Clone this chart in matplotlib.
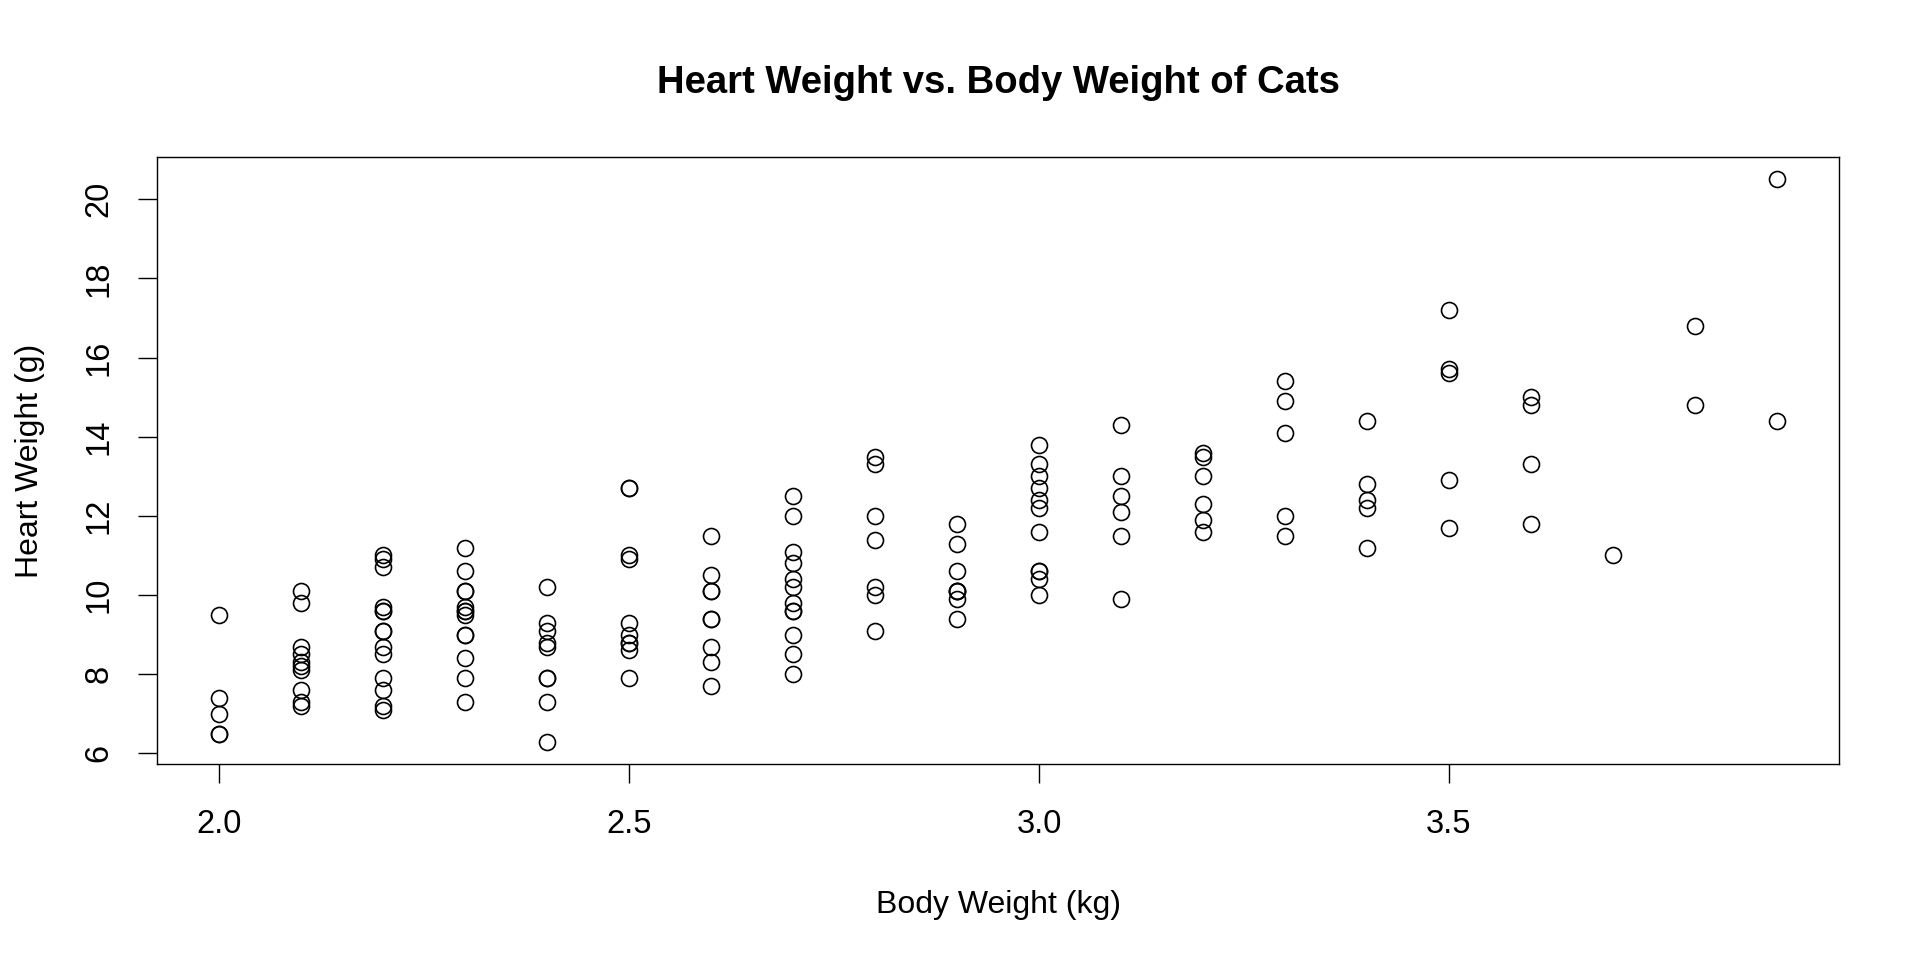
import numpy as np
import matplotlib.pyplot as plt

# cats data: body weight (kg) and heart weight (g)
bwt = [2.0, 2.0, 2.0, 2.1, 2.1, 2.1, 2.1, 2.1, 2.1, 2.1, 2.1, 2.1, 2.2, 2.2,
       2.2, 2.2, 2.2, 2.2, 2.3, 2.3, 2.3, 2.3, 2.3, 2.3, 2.3, 2.3, 2.3, 2.3,
       2.3, 2.3, 2.4, 2.4, 2.4, 2.4, 2.5, 2.5, 2.6, 2.6, 2.6, 2.7, 2.7, 2.7,
       2.9, 2.9, 2.9, 3.0, 3.0,
       2.0, 2.0, 2.1, 2.2, 2.2, 2.2, 2.2, 2.2, 2.2, 2.2, 2.2, 2.3, 2.4, 2.4,
       2.4, 2.4, 2.4, 2.5, 2.5, 2.5, 2.5, 2.5, 2.5, 2.5, 2.5, 2.6, 2.6, 2.6,
       2.6, 2.6, 2.6, 2.7, 2.7, 2.7, 2.7, 2.7, 2.7, 2.7, 2.7, 2.7, 2.8, 2.8,
       2.8, 2.8, 2.8, 2.8, 2.8, 2.9, 2.9, 2.9, 2.9, 2.9, 3.0, 3.0, 3.0, 3.0,
       3.0, 3.0, 3.0, 3.0, 3.0, 3.1, 3.1, 3.1, 3.1, 3.1, 3.1, 3.2, 3.2, 3.2,
       3.2, 3.2, 3.2, 3.3, 3.3, 3.3, 3.3, 3.3, 3.4, 3.4, 3.4, 3.4, 3.4, 3.5,
       3.5, 3.5, 3.5, 3.5, 3.6, 3.6, 3.6, 3.6, 3.7, 3.8, 3.8, 3.9, 3.9]
hwt = [7.0, 7.4, 9.5, 7.2, 7.3, 7.6, 8.1, 8.2, 8.3, 8.5, 8.7, 9.8, 7.1, 8.7,
       9.1, 9.7, 10.9, 11.0, 7.3, 7.9, 8.4, 9.0, 9.0, 9.5, 9.6, 9.7, 10.1,
       10.1, 10.6, 11.2, 6.3, 8.7, 8.8, 10.2, 9.0, 10.9, 8.7, 10.1, 10.1,
       8.5, 10.2, 10.8, 9.9, 10.1, 10.1, 10.6, 13.0,
       6.5, 6.5, 10.1, 7.2, 7.6, 7.9, 8.5, 9.1, 9.6, 9.6, 10.7, 9.6, 7.3,
       7.9, 7.9, 9.1, 9.3, 7.9, 8.6, 8.8, 8.8, 9.3, 11.0, 12.7, 12.7, 7.7,
       8.3, 9.4, 9.4, 10.5, 11.5, 8.0, 9.0, 9.6, 9.6, 9.8, 10.4, 11.1, 12.0,
       12.5, 9.1, 10.0, 10.2, 11.4, 12.0, 13.3, 13.5, 9.4, 10.1, 10.6, 11.3,
       11.8, 10.0, 10.4, 10.6, 11.6, 12.2, 12.4, 12.7, 13.3, 13.8, 9.9, 11.5,
       12.1, 12.5, 13.0, 14.3, 11.6, 11.9, 12.3, 13.0, 13.5, 13.6, 11.5,
       12.0, 14.1, 14.9, 15.4, 11.2, 12.2, 12.4, 12.8, 14.4, 11.7, 12.9,
       15.6, 15.7, 17.2, 11.8, 13.3, 14.8, 15.0, 11.0, 14.8, 16.8, 14.4, 20.5]
xticks = [2.0, 2.5, 3.0, 3.5]
yticks = [6, 8, 10, 12, 14, 16, 18, 20]

plt.rcParams['font.family'] = ['Liberation Sans', 'DejaVu Sans']

fig = plt.figure(figsize=(19.2, 9.6), dpi=100)
ax = fig.add_axes([157 / 1920, 1 - 764 / 960, (1839 - 157) / 1920,
                   (764 - 157) / 960])

ax.plot(bwt, hwt, 'o', markersize=11.5, markerfacecolor='none',
        markeredgecolor='black', markeredgewidth=1.2)

# R style 4% padding
xr = max(bwt) - min(bwt)
yr = max(hwt) - min(hwt)
ax.set_xlim(min(bwt) - 0.04 * xr, max(bwt) + 0.04 * xr)
ax.set_ylim(min(hwt) - 0.04 * yr, max(hwt) + 0.04 * yr)

ax.set_xticks(xticks)
ax.set_xticklabels(['%.1f' % t for t in xticks])
ax.set_yticks(yticks)
ax.set_yticklabels([str(t) for t in yticks], rotation=90, va='center')
ax.tick_params(direction='out', length=13.5, width=1.0, labelsize=23.5,
               pad=19)
ax.tick_params(axis='y', pad=17)
for s in ax.spines.values():
    s.set_linewidth(1.0)

ax.set_xlabel('Body Weight (kg)', fontsize=23, labelpad=36)
ax.set_ylabel('Heart Weight (g)', fontsize=23, labelpad=28)
ax.set_title('Heart Weight vs. Body Weight of Cats', fontsize=27.5,
             fontweight='bold', pad=46)

fig.savefig('out.png', dpi=100)
